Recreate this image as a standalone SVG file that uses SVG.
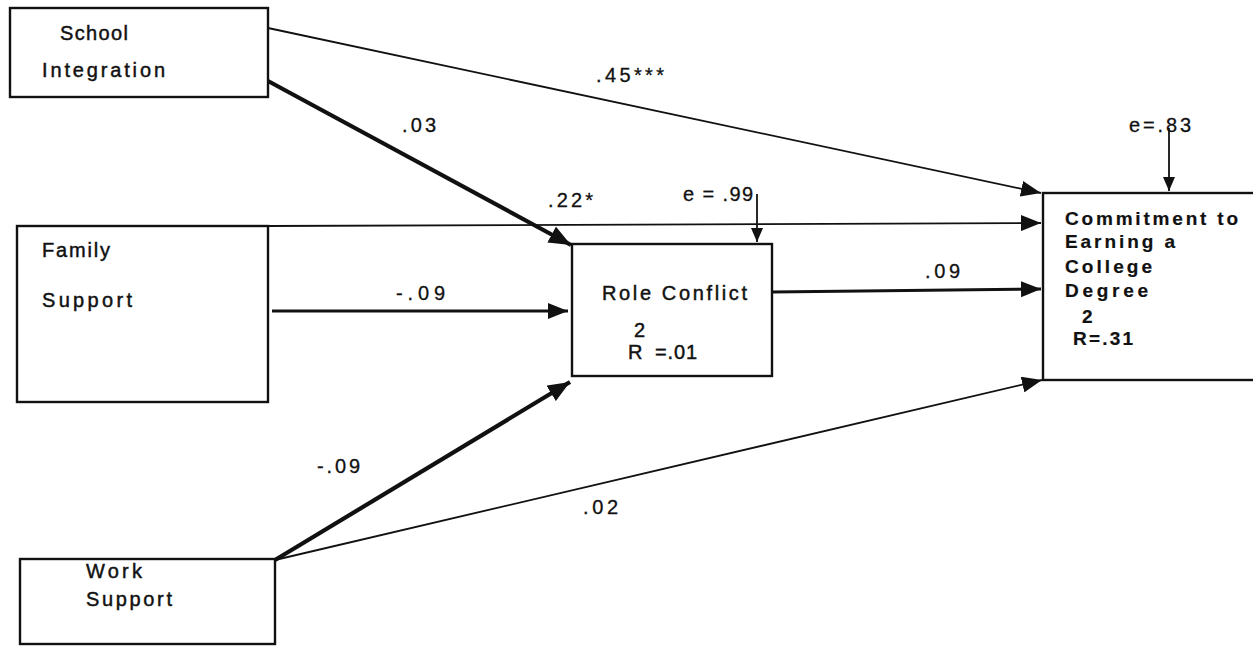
<svg xmlns="http://www.w3.org/2000/svg" width="1253" height="646" viewBox="0 0 1253 646">
  <style>
    .box { fill: #fff; stroke: #111; stroke-width: 2.4; }
    .lbl { font-family: "Liberation Sans", Arial, sans-serif; font-size: 20px; fill: #111; stroke: #111; stroke-width: 0.45; }
    .coef { font-family: "Liberation Sans", Arial, sans-serif; font-size: 20px; fill: #111; stroke: #111; stroke-width: 0.3; }
    .strong { font-size: 19px; font-weight: bold; stroke-width: 0.2; }
    .thick { stroke: #111; stroke-width: 4.2; fill: none; }
    .mid { stroke: #111; stroke-width: 3; fill: none; }
    .thin { stroke: #111; stroke-width: 1.8; fill: none; }
  </style>
  <defs>
    <marker id="ahBig" markerUnits="userSpaceOnUse" markerWidth="24" markerHeight="18" refX="22" refY="9" orient="auto">
      <path d="M0,0 L22,9 L0,18 z" fill="#111"/>
    </marker>
    <marker id="ahMid" markerUnits="userSpaceOnUse" markerWidth="22" markerHeight="16" refX="20" refY="8" orient="auto">
      <path d="M0,0 L20,8 L0,16 z" fill="#111"/>
    </marker>
    <marker id="ahSmall" markerUnits="userSpaceOnUse" markerWidth="16" markerHeight="12" refX="14" refY="6" orient="auto">
      <path d="M0,0 L14,6 L0,12 z" fill="#111"/>
    </marker>
  </defs>

  <rect width="1253" height="646" fill="#fff"/>

  <!-- paths between constructs -->
  <g id="connectors">
    <line class="thin" x1="268" y1="28" x2="1041" y2="193" marker-end="url(#ahMid)"/>
    <line class="thick" x1="268" y1="81" x2="571" y2="245" marker-end="url(#ahBig)"/>
    <line class="thin" x1="268" y1="226" x2="1041" y2="223" marker-end="url(#ahMid)"/>
    <line class="mid" x1="272" y1="311" x2="568" y2="311" marker-end="url(#ahMid)"/>
    <line class="mid" x1="772" y1="292" x2="1041" y2="289" marker-end="url(#ahMid)"/>
    <line class="thick" x1="275" y1="560" x2="570" y2="382" marker-end="url(#ahBig)"/>
    <line class="thin" x1="275" y1="560" x2="1042" y2="380" marker-end="url(#ahMid)"/>
    <!-- residual terms -->
    <line class="thin" x1="757" y1="194" x2="757" y2="242" marker-end="url(#ahSmall)"/>
    <line class="thin" x1="1169" y1="128" x2="1169" y2="191" marker-end="url(#ahSmall)"/>
  </g>

  <g id="school-integration">
    <rect class="box" x="10" y="8" width="258" height="89"/>
    <text class="lbl" x="60" y="40" textLength="68" lengthAdjust="spacing">School</text>
    <text class="lbl" x="42" y="77" textLength="123" lengthAdjust="spacing">Integration</text>
  </g>

  <g id="family-support">
    <rect class="box" x="17" y="226" width="251" height="176"/>
    <text class="lbl" x="42" y="257" textLength="68" lengthAdjust="spacing">Family</text>
    <text class="lbl" x="42" y="307" textLength="90" lengthAdjust="spacing">Support</text>
  </g>

  <g id="work-support">
    <rect class="box" x="20" y="559" width="255" height="85"/>
    <text class="lbl" x="86" y="578" textLength="56" lengthAdjust="spacing">Work</text>
    <text class="lbl" x="86" y="606" textLength="86" lengthAdjust="spacing">Support</text>
  </g>

  <g id="role-conflict">
    <rect class="box" x="572" y="244" width="200" height="132"/>
    <text class="lbl" x="602" y="300" textLength="145" lengthAdjust="spacing">Role Conflict</text>
    <text class="lbl" x="628" y="359">R</text>
    <text class="lbl" x="634" y="337" font-size="16">2</text>
    <text class="lbl" x="655" y="359" textLength="42" lengthAdjust="spacing">=.01</text>
  </g>

  <g id="commitment">
    <rect class="box" x="1043" y="193" width="230" height="187"/>
    <text class="lbl strong" x="1065" y="225" textLength="173" lengthAdjust="spacing">Commitment to</text>
    <text class="lbl strong" x="1065" y="248" textLength="110" lengthAdjust="spacing">Earning a</text>
    <text class="lbl strong" x="1065" y="273" textLength="87" lengthAdjust="spacing">College</text>
    <text class="lbl strong" x="1065" y="297" textLength="83" lengthAdjust="spacing">Degree</text>
    <text class="lbl strong" x="1082" y="323">2</text>
    <text class="lbl strong" x="1073" y="345" textLength="60" lengthAdjust="spacing">R=.31</text>
  </g>

  <g id="coefficients">
    <text class="coef" x="596" y="82" textLength="68" lengthAdjust="spacing">.45***</text>
    <text class="coef" x="402" y="132" textLength="34" lengthAdjust="spacing">.03</text>
    <text class="coef" x="548" y="207" textLength="45" lengthAdjust="spacing">.22*</text>
    <text class="coef" x="683" y="201" font-size="17" textLength="70" lengthAdjust="spacing">e = .99</text>
    <text class="coef" x="396" y="300" textLength="49" lengthAdjust="spacing">-.09</text>
    <text class="coef" x="925" y="278" textLength="35" lengthAdjust="spacing">.09</text>
    <text class="coef" x="317" y="473" textLength="43" lengthAdjust="spacing">-.09</text>
    <text class="coef" x="583" y="514" textLength="35" lengthAdjust="spacing">.02</text>
    <text class="coef" x="1129" y="132" textLength="62" lengthAdjust="spacing">e=.83</text>
  </g>
</svg>
